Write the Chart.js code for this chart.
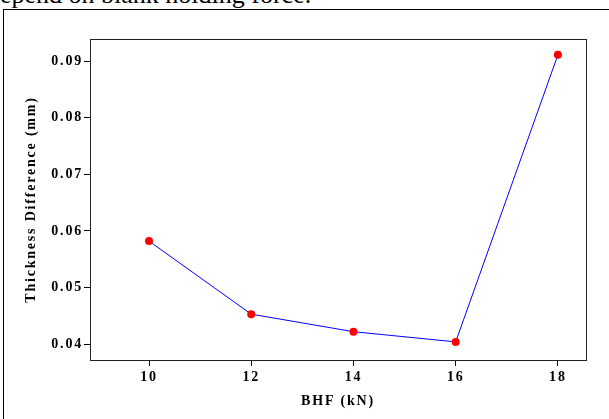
<!DOCTYPE html>
<html>
<head>
<meta charset="utf-8">
<script src="https://cdn.jsdelivr.net/npm/chart.js@4.4.1/dist/chart.umd.min.js"></script>
<style>
  html, body { margin: 0; padding: 0; background: #fff; overflow: hidden; }
  body { width: 609px; height: 419px; position: relative; }
  #caption { position: absolute; left: -13px; top: -18px; font-family: "Liberation Serif", serif; font-size: 26px; line-height: 26px; color: #000; white-space: nowrap; }
  #frame { position: absolute; left: 3px; top: 9px; width: 700px; height: 500px; border: 1px solid #000; box-sizing: border-box; }
  #c { position: absolute; left: 0; top: 0; }
</style>
</head>
<body>
<div id="caption">depend on blank holding force.</div>
<div id="frame"></div>
<canvas id="c" width="609" height="419"></canvas>
<script>
const bhf = [10, 12, 14, 16, 18];
const thickness = [0.0582, 0.0453, 0.0422, 0.0404, 0.0911];
const xTicks = [10, 12, 14, 16, 18];
const yTicks = [0.04, 0.05, 0.06, 0.07, 0.08, 0.09];
const xTitle = 'BHF (kN)';
const yTitle = 'Thickness Difference (mm)';

const spacingPlugin = {
  id: 'spacing',
  beforeDraw(chart) { chart.ctx.letterSpacing = '1.8px'; },
  afterDraw(chart) {
    const {ctx, chartArea: a} = chart;
    ctx.save();
    ctx.strokeStyle = '#222';
    ctx.lineWidth = 1;
    ctx.strokeRect(Math.round(a.left) + 0.5, Math.round(a.top) + 0.5, Math.round(a.right - a.left), Math.round(a.bottom - a.top));
    ctx.restore();
  }
};

const tickFont = { family: '"Liberation Serif", "Times New Roman", serif', size: 14, weight: 'bold' };

new Chart(document.getElementById('c'), {
  type: 'line',
  data: {
    datasets: [{
      data: bhf.map((x, i) => ({ x: x, y: thickness[i] })),
      borderColor: '#0000ff',
      borderWidth: 1,
      backgroundColor: '#ff0000',
      pointBackgroundColor: '#ff0000',
      pointBorderColor: '#ff0000',
      pointRadius: 4,
      pointBorderWidth: 0,
      tension: 0
    }]
  },
  options: {
    responsive: false,
    animation: false,
    layout: { padding: { left: 0, top: 39, right: 23, bottom: 0 } },
    plugins: { legend: { display: false }, tooltip: { enabled: false } },
    scales: {
      x: {
        type: 'linear',
        min: 8.845,
        max: 18.55,
        afterBuildTicks: s => { s.ticks = xTicks.map(v => ({ value: v })); },
        afterFit: s => { s.height = 59; },
        border: { display: false },
        grid: { drawOnChartArea: false, drawTicks: true, tickLength: 6, color: '#000' },
        ticks: { font: tickFont, color: '#000', padding: 3, maxRotation: 0, callback: v => String(v) },
        title: { display: true, text: xTitle, font: tickFont, color: '#000', padding: { top: 0, bottom: 9 } }
      },
      y: {
        type: 'linear',
        min: 0.0372,
        max: 0.0939,
        afterBuildTicks: s => { s.ticks = yTicks.map(v => ({ value: v })); },
        afterFit: s => { s.width = 90; },
        border: { display: false },
        grid: { drawOnChartArea: false, drawTicks: true, tickLength: 6, color: '#000' },
        ticks: { font: tickFont, color: '#000', padding: 1, callback: v => v.toFixed(2) },
        title: { display: true, text: yTitle, font: tickFont, color: '#000', padding: { top: 23, bottom: 0 } }
      }
    }
  },
  plugins: [spacingPlugin]
});
</script>
</body>
</html>
